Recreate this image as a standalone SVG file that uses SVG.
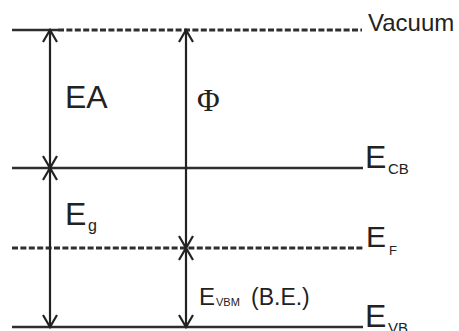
<svg xmlns="http://www.w3.org/2000/svg" width="459" height="331" viewBox="0 0 459 331">
<style>
.lvl{stroke:#2e2e2e;stroke-width:2.6;fill:none}
.dash{stroke:#2e2e2e;stroke-width:3;fill:none;stroke-dasharray:6 2.4}
.arr{stroke:#222;stroke-width:2.2;fill:none;marker-start:url(#ah);marker-end:url(#ah)}
.t{font-family:"Liberation Sans",Arial,sans-serif;fill:#222}
.s{font-family:"Liberation Serif","Times New Roman",serif;fill:#222}
</style>
<defs>
<marker id="ah" markerUnits="userSpaceOnUse" orient="auto-start-reverse" markerWidth="20" markerHeight="20" viewBox="-14 -10 16 20" refX="0" refY="0" overflow="visible">
<path d="M-12,-7 L0,0 L-12,7" fill="none" stroke="#222" stroke-width="2.2"/>
</marker>
</defs>
<rect width="459" height="331" fill="#fff"/>
<g id="vacuum">
<line class="lvl" x1="12" y1="30" x2="58" y2="30"/>
<line class="dash" x1="58" y1="30" x2="362" y2="30"/>
<text class="t" x="368" y="31" font-size="24">Vacuum</text>
</g>
<g id="ecb">
<line class="lvl" x1="12" y1="168" x2="363" y2="168"/>
<text class="t" x="365" y="168" font-size="32">E</text>
<text class="t" x="388" y="174" font-size="15">CB</text>
</g>
<g id="ef">
<line class="dash" x1="12" y1="248" x2="363" y2="248"/>
<text class="t" x="366" y="247" font-size="30">E</text>
<text class="t" x="389" y="255" font-size="13">F</text>
</g>
<g id="evb">
<line class="lvl" x1="12" y1="327" x2="363" y2="327"/>
<text class="t" x="365" y="327" font-size="32">E</text>
<text class="t" x="388" y="333" font-size="15">VB</text>
</g>
<g id="connectors">
<line class="arr" x1="50" y1="30" x2="50" y2="168"/>
<line class="arr" x1="50" y1="168" x2="50" y2="327"/>
<line class="arr" x1="186" y1="30" x2="186" y2="248"/>
<line class="arr" x1="186" y1="248" x2="186" y2="327"/>
</g>
<g id="labels">
<text class="t" x="65" y="108" font-size="32">EA</text>
<text class="s" x="197" y="111" font-size="31">Φ</text>
<text class="t" x="65" y="225" font-size="32">E</text>
<text class="t" x="88" y="231" font-size="16">g</text>
<text class="t" x="199" y="305" font-size="24">E</text>
<text class="t" x="216" y="306" font-size="11">VBM</text>
<text class="t" x="251" y="305" font-size="23">(B.E.)</text>
</g>
</svg>
